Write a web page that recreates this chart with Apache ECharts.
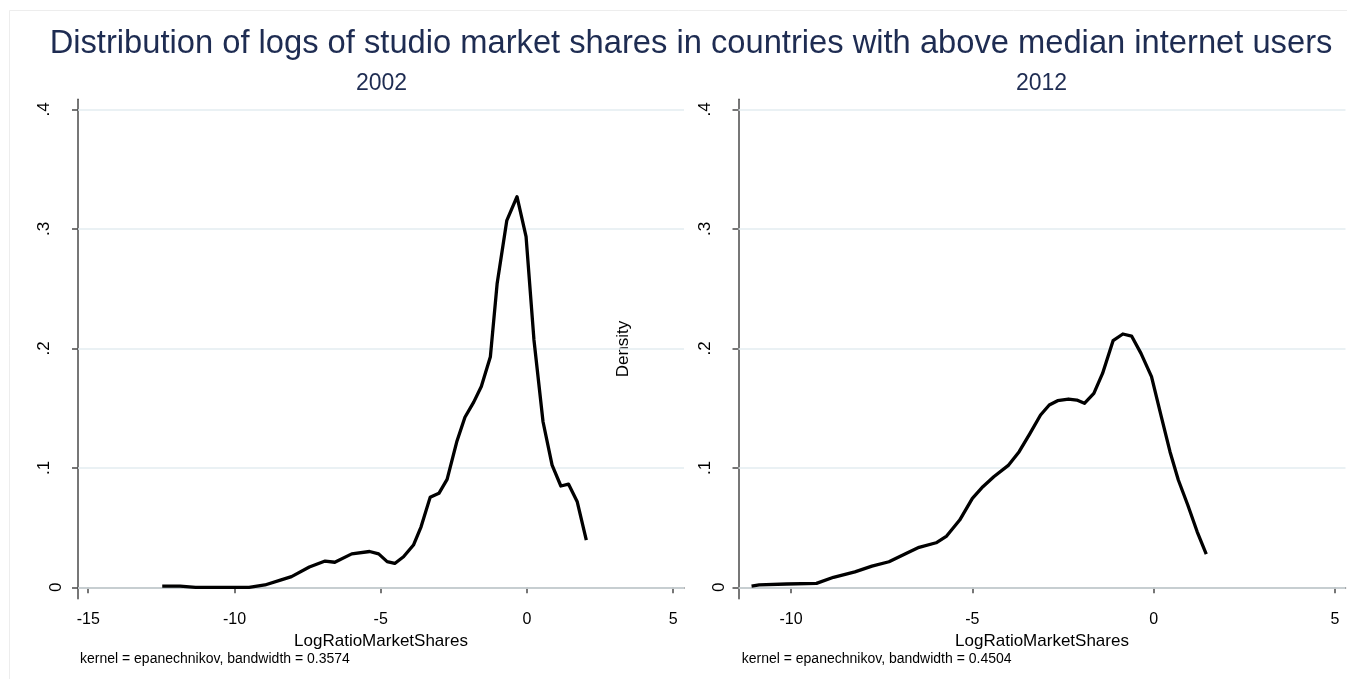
<!DOCTYPE html>
<html>
<head>
<meta charset="utf-8">
<title>Distribution of logs of studio market shares</title>
<script src="https://cdn.jsdelivr.net/npm/echarts@6/dist/echarts.min.js"></script>
<style>
  html, body { margin: 0; padding: 0; background: #fff; }
  #chart { width: 1347px; height: 679px; }
</style>
</head>
<body>
<div id="chart"></div>
<script>
// kernel density estimates
const x2002 = [-12.47, -11.86, -11.33, -10.5, -9.5, -8.96, -8.43, -8.05, -7.44, -6.9, -6.57, -5.99, -5.38, -5.07, -4.78, -4.52, -4.22, -3.88, -3.62, -3.31, -3.01, -2.73, -2.4, -2.12, -1.82, -1.56, -1.25, -1.02, -0.69, -0.34, -0.03, 0.24, 0.55, 0.86, 1.16, 1.42, 1.72, 2.03];
const y2002 = [0.001, 0.001, 0, 0, 0, 0.002, 0.006, 0.009, 0.017, 0.022, 0.021, 0.028, 0.030, 0.028, 0.0215, 0.020, 0.0256, 0.0354, 0.0507, 0.0753, 0.0787, 0.0904, 0.1218, 0.1423, 0.155, 0.168, 0.193, 0.254, 0.3068, 0.3269, 0.2934, 0.207, 0.1386, 0.1023, 0.0848, 0.0864, 0.0716, 0.0396];

const x2012 = [-11.09, -10.88, -10.12, -9.3, -8.83, -8.24, -7.77, -7.3, -6.83, -6.47, -6.0, -5.71, -5.35, -5.0, -4.71, -4.41, -4.0, -3.71, -3.41, -3.12, -2.88, -2.65, -2.35, -2.12, -1.91, -1.65, -1.41, -1.12, -0.85, -0.61, -0.35, -0.06, 0.21, 0.45, 0.68, 0.94, 1.2, 1.45];
const y2012 = [0.001, 0.002, 0.0028, 0.0033, 0.0084, 0.013, 0.0178, 0.0214, 0.0284, 0.0335, 0.0373, 0.0429, 0.0563, 0.0745, 0.0842, 0.0926, 0.1023, 0.1135, 0.1289, 0.1442, 0.1526, 0.1562, 0.1576, 0.1567, 0.154, 0.1623, 0.179, 0.2064, 0.212, 0.2103, 0.1958, 0.1763, 0.1428, 0.1135, 0.0898, 0.0689, 0.0465, 0.0279];

const yTicks = [0, 0.1, 0.2, 0.3, 0.4];
const xTicks2002 = [-15, -10, -5, 0, 5];
const xTicks2012 = [-10, -5, 0, 5];

const titleText = "Distribution of logs of studio market shares in countries with above median internet users";
const panelTitles = ["2002", "2012"];
const notes = ["kernel = epanechnikov, bandwidth = 0.3574", "kernel = epanechnikov, bandwidth = 0.4504"];

const FONT = 'Arial, "Liberation Sans", sans-serif';
const NAVY = "#1e2c52";
const AXIS = "#4a4a4a";
const GRIDC = "#e3edf1";

let chart = echarts.init(document.getElementById("chart"), null, { renderer: "canvas" });

function toPairs(xs, ys) {
  return xs.map((x, i) => [x, ys[i]]);
}

function fmtY(v) {
  return v === 0 ? "0" : String(v).replace(/^0/, "");
}

function xAxis(gridIndex, min, max, ticks) {
  return {
    type: "value",
    gridIndex: gridIndex,
    min: min,
    max: max,
    name: "LogRatioMarketShares",
    nameLocation: "middle",
    nameGap: 29,
    nameTextStyle: { color: "#000", fontSize: 17, fontFamily: FONT },
    axisLine: { show: true, lineStyle: { color: AXIS, width: 1.5 } },
    axisTick: { show: true, length: 6, customValues: ticks, lineStyle: { color: AXIS, width: 1.5 } },
    axisLabel: { customValues: ticks, margin: 13, color: "#000", fontSize: 16, fontFamily: FONT },
    splitLine: { show: false }
  };
}

function yAxisMain(gridIndex, extra) {
  return Object.assign({
    type: "value",
    gridIndex: gridIndex,
    position: "left",
    min: -0.0095,
    max: 0.4084,
    axisLine: { show: true, onZero: false, lineStyle: { color: AXIS, width: 1.5 } },
    axisTick: { show: true, length: 6, customValues: yTicks, lineStyle: { color: AXIS, width: 1.5 } },
    axisLabel: {
      customValues: yTicks.slice(1),
      rotate: 90,
      margin: 25,
      color: "#000",
      fontSize: 17,
      fontFamily: FONT,
      formatter: fmtY
    },
    splitLine: { show: false }
  }, extra || {});
}

// second axis only to place the "0" label a bit closer, like the original
function yAxisZero(gridIndex, margin) {
  return {
    type: "value",
    gridIndex: gridIndex,
    position: "left",
    min: -0.0095,
    max: 0.4084,
    axisLine: { show: false },
    axisTick: { show: false },
    axisLabel: {
      customValues: [0],
      rotate: 90,
      margin: margin,
      color: "#000",
      fontSize: 17,
      fontFamily: FONT,
      formatter: fmtY
    },
    splitLine: { show: false }
  };
}

function densitySeries(xi, yi, data) {
  return {
    type: "line",
    xAxisIndex: xi,
    yAxisIndex: yi,
    data: data,
    showSymbol: false,
    symbol: "none",
    smooth: false,
    z: 3,
    lineStyle: { color: "#000", width: 3.3, join: "round" },
    markLine: {
      silent: true,
      symbol: "none",
      z: 1,
      label: { show: false },
      lineStyle: { color: GRIDC, width: 1.5, type: "solid" },
      data: yTicks.map(v => ({ yAxis: v }))
    }
  };
}

let option = {
  backgroundColor: "#fff",
  animation: false,
  grid: [
    { left: 78, top: 99.3, width: 606, height: 499.4, outerBoundsMode: "none", containLabel: false },
    { left: 738.5, top: 99.3, width: 607, height: 499.4, outerBoundsMode: "none", containLabel: false }
  ],
  xAxis: [
    xAxis(0, -15.35, 5.37, xTicks2002),
    xAxis(1, -11.45, 5.29, xTicks2012)
  ],
  yAxis: [
    yAxisMain(0),
    yAxisZero(0, 13),
    yAxisMain(1, {
      name: "Density",
      nameLocation: "middle",
      nameGap: 107,
      nameRotate: 90,
      nameTextStyle: { color: "#000", fontSize: 17, fontFamily: FONT }
    }),
    yAxisZero(1, 11)
  ],
  series: [
    densitySeries(0, 0, toPairs(x2002, y2002)),
    densitySeries(1, 2, toPairs(x2012, y2012))
  ],
  graphic: [
    {
      type: "rect",
      silent: true,
      shape: { x: 9.5, y: 10.5, width: 1400, height: 700 },
      style: { fill: "none", stroke: "#ededed", lineWidth: 1 }
    },
    {
      type: "text",
      x: 691,
      y: 43.7,
      style: { text: titleText, fill: NAVY, font: "32.7px " + FONT, textAlign: "center", verticalAlign: "middle" }
    },
    {
      type: "text",
      x: 381.5,
      y: 83.5,
      style: { text: panelTitles[0], fill: NAVY, font: "23px " + FONT, textAlign: "center", verticalAlign: "middle" }
    },
    {
      type: "text",
      x: 1041.5,
      y: 83.5,
      style: { text: panelTitles[1], fill: NAVY, font: "23px " + FONT, textAlign: "center", verticalAlign: "middle" }
    },
    {
      type: "text",
      x: 80,
      y: 659.5,
      style: { text: notes[0], fill: "#000", font: "14px " + FONT, textAlign: "left", verticalAlign: "middle" }
    },
    {
      type: "text",
      x: 741.7,
      y: 659.5,
      style: { text: notes[1], fill: "#000", font: "14px " + FONT, textAlign: "left", verticalAlign: "middle" }
    }
  ]
};

chart.setOption(option);
</script>
</body>
</html>
